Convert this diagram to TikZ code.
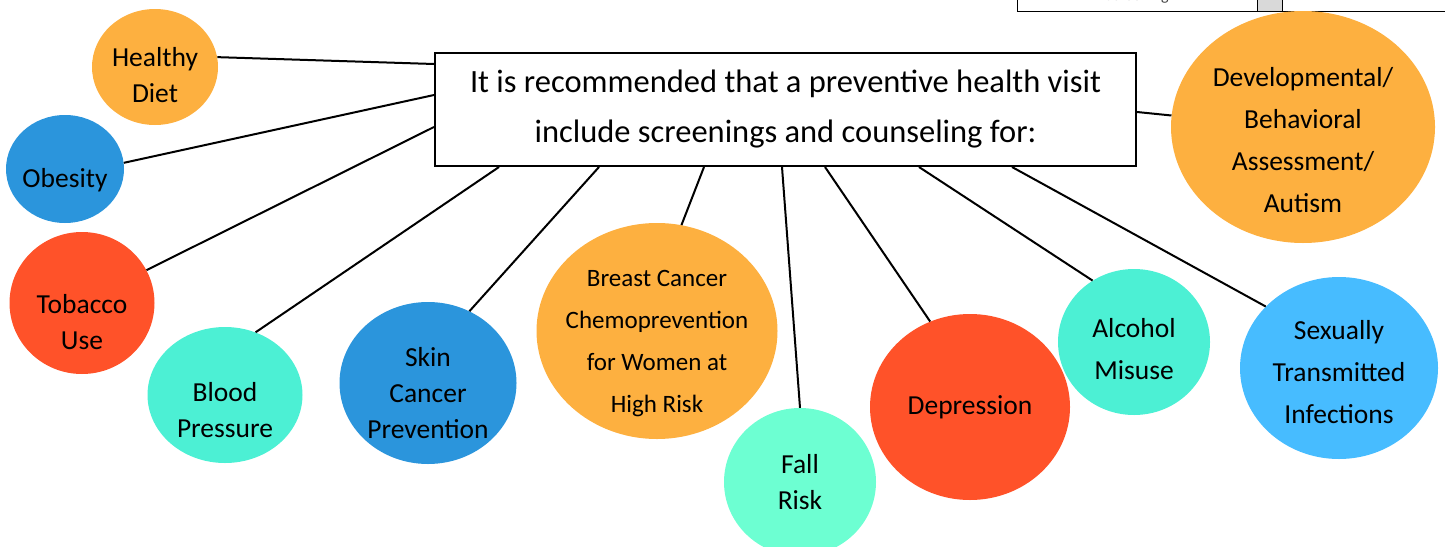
\documentclass[tikz,border=0pt]{standalone}
\usepackage{fontspec}
\setmainfont{Carlito}
\usetikzlibrary{shapes.geometric,calc}
\definecolor{corange}{RGB}{253,176,64}
\definecolor{cblue}{RGB}{43,149,220}
\definecolor{cred}{RGB}{255,82,41}
\definecolor{cturq}{RGB}{76,240,212}
\definecolor{cmint}{RGB}{109,255,210}
\definecolor{csky}{RGB}{71,188,255}
\begin{document}
\begin{tikzpicture}[x=1pt,y=-1pt,
  bub/.style={ellipse,inner sep=0pt},
  txt/.style={inner sep=0pt,align=center,font=\fontsize{27.5}{36}\selectfont},
  txtw/.style={inner sep=0pt,align=center,font=\fontsize{27.5}{42}\selectfont},
  conn/.style={line width=2pt}]
\useasboundingbox (0,0) rectangle (1445,546);
% table fragment top right
\begin{scope}
\clip (0,0) rectangle (1445,546);
\fill[gray!30] (1257,-5) rectangle (1282,11);
\draw[line width=1pt] (1017,-5) -- (1017,11) -- (1445,11);
\draw[line width=1pt] (1257,-5) -- (1257,11) (1282,-5) -- (1282,11);
\node[anchor=base,font=\fontsize{16}{18}\selectfont,text=black!75,inner sep=0] (scr) at (1137,1) {Screening};
\end{scope}
% central box
\node[draw,line width=2pt,minimum width=701,minimum height=113,inner sep=0,align=center,
  font=\fontsize{32.5}{50}\selectfont] (box) at (785.5,109.5)
  {It is recommended that a preventive health visit\\include screenings and counseling for:};
% bubbles
\node[bub,fill=corange,minimum width=126,minimum height=116] (diet) at (155,67) {};
\node[txt] (dietT) at ($(diet)+(0,8)$) {Healthy\\Diet};
\node[bub,fill=cblue,minimum width=118,minimum height=108] (obes) at (65,169) {};
\node[txt] (obesT) at ($(obes)+(0,11)$) {Obesity};
\node[bub,fill=cred,minimum width=145,minimum height=142] (tob) at (82,303) {};
\node[txt] (tobT) at ($(tob)+(0,19)$) {Tobacco\\Use};
\node[bub,fill=cturq,minimum width=155,minimum height=136] (bp) at (225,395) {};
\node[txt] (bpT) at ($(bp)+(0,15)$) {Blood\\Pressure};
\node[bub,fill=cblue,minimum width=177,minimum height=162] (skin) at (428,383) {};
\node[txt] (skinT) at ($(skin)+(0,10)$) {Skin\\Cancer\\Prevention};
\node[bub,fill=corange,minimum width=241,minimum height=216] (breast) at (657,331) {};
\node[txtw,font=\fontsize{25}{42}\selectfont] (breastT) at ($(breast)+(0,13)$) {Breast Cancer\\Chemoprevention\\for Women at\\High Risk};
\node[bub,fill=cmint,minimum width=152,minimum height=148] (fall) at (800,482) {};
\node[txt] (fallT) at ($(fall)+(0,0)$) {Fall\\Risk};
\node[bub,fill=cred,minimum width=200,minimum height=186] (dep) at (970,407) {};
\node[txt] (depT) at ($(dep)+(0,0)$) {Depression};
\node[bub,fill=cturq,minimum width=152,minimum height=146] (alc) at (1134,342) {};
\node[txtw] (alcT) at ($(alc)+(0,7)$) {Alcohol\\Misuse};
\node[bub,fill=csky,minimum width=198,minimum height=182] (sti) at (1339,368) {};
\node[txtw] (stiT) at ($(sti)+(0,4)$) {Sexually\\Transmitted\\Infections};
\node[bub,fill=corange,minimum width=264,minimum height=232] (dev) at (1303,127) {};
\node[txtw] (devT) at ($(dev)+(0,13)$) {Developmental/\\Behavioral\\Assessment/\\Autism};
% connectors
\draw[conn] (diet.9) -- ($(box.north west)+(0,12)$);
\draw[conn] (obes.6) -- ($(box.north west)+(0,43)$);
\draw[conn] (tob.27) -- ($(box.north west)+(0,75)$);
\draw[conn] (bp.64) -- ($(box.south west)+(65,0)$);
\draw[conn] (skin.60) -- ($(box.south west)+(165,0)$);
\draw[conn] (breast.77) -- ($(box.south west)+(270,0)$);
\draw[conn] (fall.90) -- ($(box.south west)+(348,0)$);
\draw[conn] (dep.115) -- ($(box.south west)+(391,0)$);
\draw[conn] (alc.124) -- ($(box.south west)+(485,0)$);
\draw[conn] (sti.140) -- ($(box.south west)+(578,0)$);
\draw[conn] (dev.175) -- ($(box.north east)+(0,60)$);
\end{tikzpicture}
\end{document}
